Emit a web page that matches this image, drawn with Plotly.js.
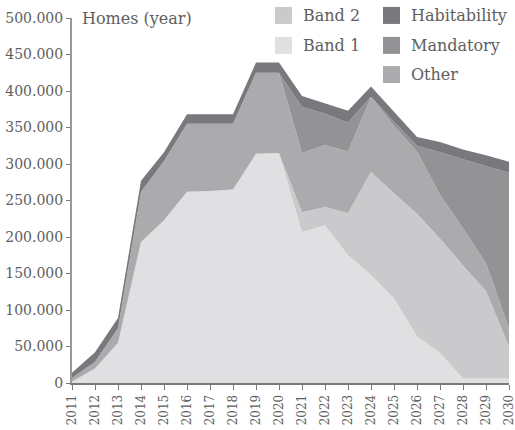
<!DOCTYPE html>
<html>
<head>
<meta charset="utf-8">
<script src="https://cdn.plot.ly/plotly-3.0.1.min.js"></script>
<style>html,body{margin:0;padding:0;background:#fff;}#chart{width:515px;height:430px;}</style>
</head>
<body>
<div id="chart"></div>
<script>
var years = [2011,2012,2013,2014,2015,2016,2017,2018,2019,2020,2021,2022,2023,2024,2025,2026,2027,2028,2029,2030];
var band1 = [2000,20000,55000,193000,223000,262000,263000,265000,314000,315000,207000,216000,175000,148000,116000,64000,41000,6000,6000,6000];
var band2 = [0,0,0,0,0,0,0,0,0,0,27000,25000,58000,141000,144000,168000,157000,155000,120000,44000];
var other = [5000,9000,20000,69000,81000,93000,92000,90000,111000,110000,81000,85000,84000,103000,92000,85000,60000,51000,38000,25000];
var mandatory = [0,0,0,0,0,0,0,0,0,0,63000,43000,40000,0,6000,8000,58000,94000,133000,213000];
var habitability = [7000,13000,14000,15000,12000,13000,13000,13000,14000,14000,15000,14000,16000,14000,13000,12000,14000,14000,15000,15000];
var yTicks = [0,50000,100000,150000,200000,250000,300000,350000,400000,450000,500000];

var colors = {band1:'#e0e0e2', band2:'#cacacd', other:'#ababae', mandatory:'#939396', habitability:'#79787d'};
var font = "DejaVu Serif";
var textColor = '#5e5e5e';

function area(name, vals, color){
  return {x: years, y: vals, name: name, type: 'scatter', mode: 'lines', stackgroup: 'one',
          line: {width: 0, shape: 'linear'}, fillcolor: color, showlegend: false, hoverinfo: 'x+y+name'};
}
var data = [
  area('Band 1', band1, colors.band1),
  area('Band 2', band2, colors.band2),
  area('Other', other, colors.other),
  area('Mandatory', mandatory, colors.mandatory),
  area('Habitability', habitability, colors.habitability)
];

var W = 437, H = 365;
var legendItems = [
  {name:'Band 2', color:colors.band2, col:0, row:0},
  {name:'Band 1', color:colors.band1, col:0, row:1},
  {name:'Habitability', color:colors.habitability, col:1, row:0},
  {name:'Mandatory', color:colors.mandatory, col:1, row:1},
  {name:'Other', color:colors.other, col:1, row:2}
];
var colX = [203/W, 311/W];
var rowY = [1.007, 0.925, 0.845];
var sw = 17/W, sh = 17/H;
var shapes = [], annotations = [];
legendItems.forEach(function(it){
  var x0 = colX[it.col], yc = rowY[it.row];
  shapes.push({type:'rect', xref:'paper', yref:'paper', x0:x0, x1:x0+sw, y0:yc-sh/2, y1:yc+sh/2,
               fillcolor:it.color, line:{width:0}});
  annotations.push({xref:'paper', yref:'paper', x:x0+sw+9/W, y:yc, xanchor:'left', yanchor:'middle',
                    text:it.name, showarrow:false, font:{family:font, size:16, color:textColor}});
});
annotations.push({xref:'paper', yref:'paper', x:8/W, y:0.998, xanchor:'left', yanchor:'middle',
                  text:'Homes (year)', showarrow:false, font:{family:font, size:16, color:textColor}});

var layout = {
  width: 515, height: 430,
  margin: {l:72, r:6, t:18, b:47, pad:0},
  paper_bgcolor:'#fff', plot_bgcolor:'#fff',
  separators: ',.',
  showlegend: false,
  font: {family: font, color: textColor},
  xaxis: {range:[2011,2030], tickvals: years, ticktext: years.map(String), tickangle:-90,
          ticklabeloverflow:'allow',
          showgrid:false, zeroline:false, showline:true, linecolor:'#7a7a7a', linewidth:2,
          ticks:'outside', ticklen:5, tickwidth:1, tickcolor:'#7a7a7a',
          tickfont:{family:font, size:12, color:textColor}},
  yaxis: {range:[0,500000], tickvals: yTicks, tickformat:',d',
          showgrid:false, zeroline:false, showline:true, linecolor:'#9a9a9a', linewidth:2,
          ticks:'outside', ticklen:4, tickwidth:1, tickcolor:'#7a7a7a',
          tickfont:{family:font, size:14, color:textColor}},
  shapes: shapes,
  annotations: annotations
};
Plotly.newPlot('chart', data, layout, {displayModeBar:false, staticPlot:true});
</script>
</body>
</html>
